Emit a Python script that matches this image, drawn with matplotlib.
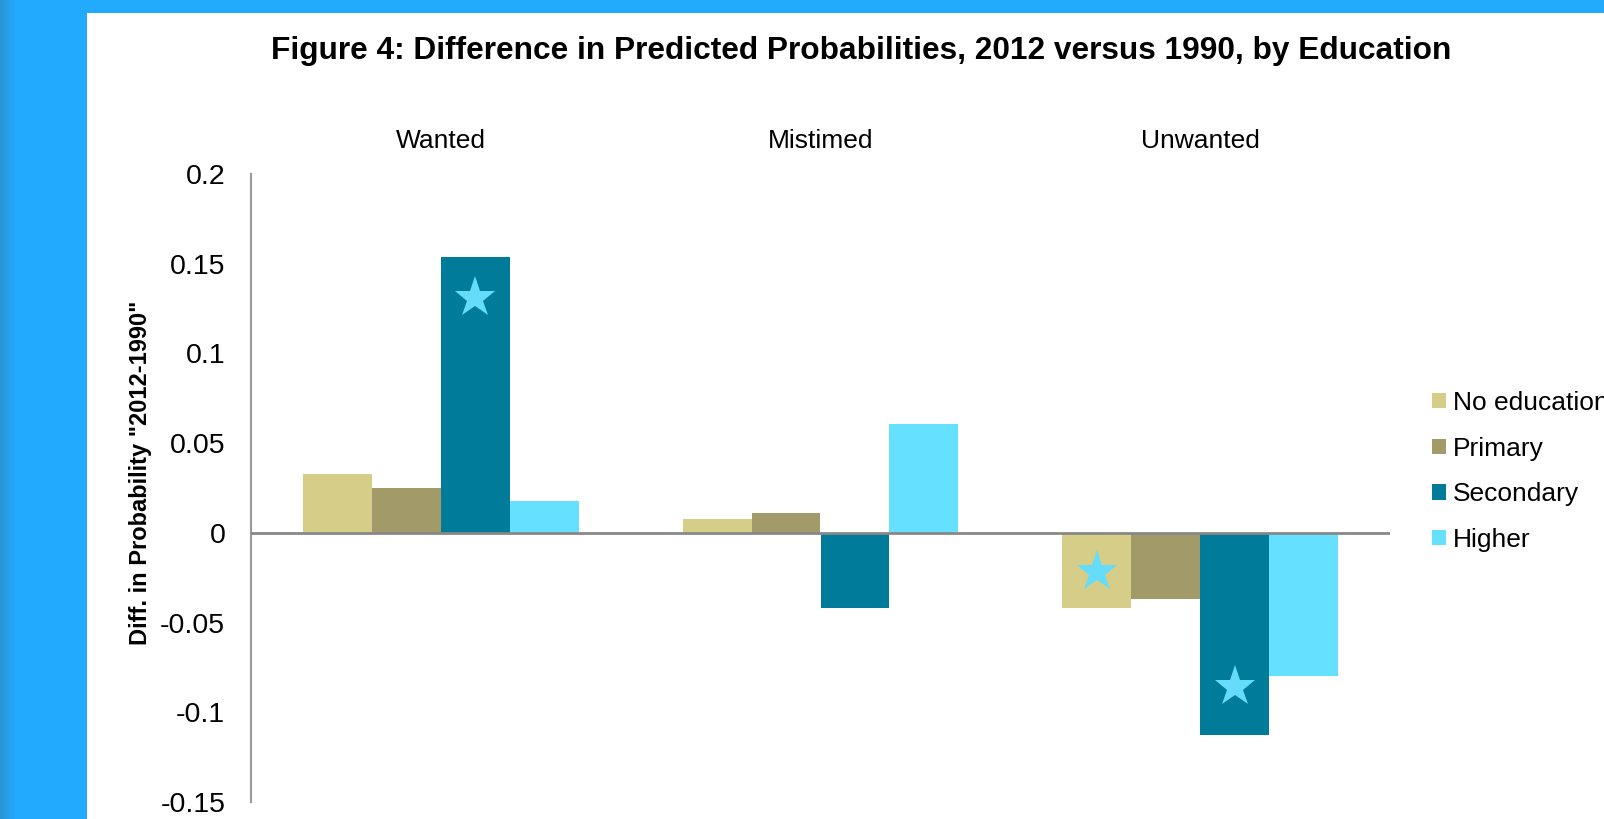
import matplotlib
matplotlib.use("Agg")
import matplotlib.pyplot as plt
import numpy as np
from matplotlib.patches import Patch, Rectangle

# ── Data ────────────────────────────────────────────────────────────────────
categories = ["Wanted", "Mistimed", "Unwanted"]
levels = ["No education", "Primary", "Secondary", "Higher"]
no_education = [0.0329, 0.0080, -0.0418]
primary = [0.0251, 0.0109, -0.0368]
secondary = [0.1538, -0.0418, -0.1125]
higher = [0.0178, 0.0609, -0.0800]

# significance stars: (category index, level index, y position)
star_cat = [0, 2, 2]
star_lvl = [2, 0, 2]
star_y = [0.131, -0.022, -0.086]

yticks = [0.2, 0.15, 0.1, 0.05, 0, -0.05, -0.1, -0.15]
ytick_labels = ["0.2", "0.15", "0.1", "0.05", "0", "-0.05", "-0.1", "-0.15"]

COLORS = ["#D6CD89", "#A39A6A", "#007B99", "#65E0FF"]
STAR_COLOR = "#65DDFA"

plt.rcParams.update({"font.family": ["Liberation Sans", "DejaVu Sans"]})

W, H = 1604, 819
fig = plt.figure(figsize=(W / 100, H / 100), dpi=100, facecolor="#22AAFF")

# ── Background: blue frame with white panel ─────────────────────────────────
bg = fig.add_axes([0, 0, 1, 1], zorder=-5)
bg.axis("off")
grad = np.linspace(0, 1, 16).reshape(1, -1)
edge_cmap = matplotlib.colors.LinearSegmentedColormap.from_list("edge", ["#2A94D2", "#22AAFF"])
bg.imshow(grad, extent=(0, 16, H, 0), cmap=edge_cmap, aspect="auto")
bg.add_patch(Rectangle((87, 13), W - 87, H - 13, facecolor="white", edgecolor="none"))
bg.set_xlim(0, W)
bg.set_ylim(H, 0)

# ── Chart ───────────────────────────────────────────────────────────────────
ax = fig.add_axes([251 / W, (H - 802) / H, (1390 - 251) / W, (802 - 174) / H])
ax.set_facecolor("none")

x = np.arange(len(categories))
bw = 0.1816
series = [no_education, primary, secondary, higher]
for i, (vals, lab) in enumerate(zip(series, levels)):
    ax.bar(x + (i - 1.5) * bw, vals, width=bw, color=COLORS[i], label=lab, zorder=2)

sx = [star_cat[k] + (star_lvl[k] - 1.5) * bw for k in range(len(star_y))]
ax.plot(sx, star_y, linestyle="none", marker="*", markersize=31,
        markeredgewidth=0, color=STAR_COLOR, zorder=3)

ax.axhline(0, color="#888888", linewidth=2, zorder=3)

ax.set_xlim(-0.5, 2.5)
ax.set_ylim(-0.15, 0.2)
ax.set_yticks(yticks)
ax.set_yticklabels(ytick_labels, fontsize=20.5)
ax.tick_params(axis="y", length=0, pad=18.5)
ax.set_xticks([])
for s in ["top", "right", "bottom"]:
    ax.spines[s].set_visible(False)
ax.spines["left"].set_color("#999999")
ax.spines["left"].set_linewidth(1.5)

# category labels above the plot, at y ≈ 141 px
pos = ax.get_position()
cat_y = ((H - 141) / H - pos.y0) / pos.height
for i, c in enumerate(categories):
    ax.text(i, cat_y, c, transform=ax.get_xaxis_transform(), ha="center",
            va="center", fontsize=19)

fig.text(861 / W, (H - 51) / H,
         "Figure 4: Difference in Predicted Probabilities, 2012 versus 1990, by Education",
         ha="center", va="center", fontsize=22.8, fontweight="bold")

fig.text(140 / W, (H - 473) / H, 'Diff. in Probability "2012-1990"', rotation=90,
         ha="center", va="center", fontsize=17, fontweight="bold")

handles = [Patch(facecolor=c, edgecolor="none") for c in COLORS]
fig.legend(handles, levels, loc="center left", bbox_to_anchor=(1432 / W, (H - 471.5) / H),
           frameon=False, fontsize=19, handlelength=0.53, handleheight=0.53,
           handletextpad=0.27, labelspacing=0.82, borderpad=0, borderaxespad=0)

fig.savefig("out.png", dpi=100, facecolor=fig.get_facecolor())
